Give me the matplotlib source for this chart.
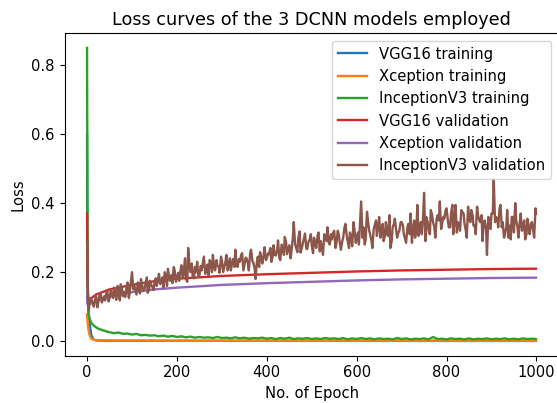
import numpy as np
import matplotlib
matplotlib.use('Agg')
import matplotlib.pyplot as plt

# training curves (epoch, loss)
vgg_train_ep = [0, 1, 2, 3, 5, 8, 10, 15, 20, 50, 100, 300, 600, 999]
vgg_train = [0.60, 0.15, 0.11, 0.09, 0.06, 0.03, 0.015, 0.004, 0.002, 0.001, 0.001, 0.0008, 0.0006, 0.0005]

xcp_train_ep = [0, 1, 2, 3, 5, 8, 10, 15, 20, 50, 100, 300, 600, 999]
xcp_train = [0.077, 0.06, 0.045, 0.035, 0.02, 0.01, 0.007, 0.004, 0.003, 0.002, 0.0015, 0.001, 0.001, 0.001]

inc_train_ep = [0, 1, 2, 3, 4, 5, 7, 10, 15, 20, 25, 30, 35, 40, 45] + list(range(50, 1000, 10)) + [999]
inc_train = [0.85, 0.30, 0.12, 0.085, 0.075, 0.068, 0.06, 0.052, 0.045, 0.04, 0.036, 0.034, 0.031, 0.03, 0.027,
             0.026, 0.023, 0.025, 0.021, 0.022, 0.019, 0.021, 0.017, 0.018, 0.016,
             0.017, 0.014, 0.016, 0.013, 0.015, 0.012, 0.014, 0.011, 0.013, 0.010,
             0.012, 0.010, 0.011, 0.009, 0.012, 0.009, 0.010, 0.008, 0.011, 0.008,
             0.010, 0.007, 0.009, 0.008, 0.010, 0.007, 0.009, 0.006, 0.009, 0.007,
             0.010, 0.006, 0.008, 0.007, 0.009, 0.006, 0.008, 0.006, 0.009, 0.007,
             0.008, 0.006, 0.009, 0.005, 0.008, 0.006, 0.009, 0.006, 0.008, 0.005,
             0.008, 0.006, 0.007, 0.005, 0.009, 0.006, 0.008, 0.005, 0.007, 0.006,
             0.008, 0.005, 0.012, 0.006, 0.007, 0.005, 0.008, 0.006, 0.007, 0.005,
             0.008, 0.005, 0.007, 0.006, 0.008, 0.005, 0.007, 0.006, 0.008, 0.005,
             0.007, 0.005, 0.008, 0.006, 0.007,
             0.006]

# validation curves
vgg_val_ep = [0, 1, 2, 3, 5, 10, 20, 50, 100, 160, 200, 300, 400, 500, 600, 700, 800, 900, 999]
vgg_val = [0.37, 0.20, 0.14, 0.125, 0.12, 0.125, 0.135, 0.15, 0.163, 0.176, 0.181, 0.189, 0.194, 0.198,
           0.202, 0.205, 0.207, 0.209, 0.21]

xcp_val_ep = [0, 1, 2, 5, 10, 20, 50, 100, 150, 200, 300, 400, 500, 600, 700, 800, 900, 999]
xcp_val = [0.13, 0.11, 0.105, 0.107, 0.11, 0.115, 0.128, 0.142, 0.15, 0.155, 0.163, 0.168, 0.172, 0.176,
           0.179, 0.181, 0.183, 0.184]

# InceptionV3 validation: readings at epochs 0-4, 5, 10, ..., 995, 999
inc_val_ep = [0, 1, 2, 3, 4] + list(range(5, 1000, 5)) + [999]
inc_val = [0.29, 0.20, 0.13, 0.10, 0.09,
           0.105, 0.120, 0.100, 0.130, 0.115, 0.140, 0.120, 0.118, 0.145, 0.125,
           0.135, 0.155, 0.120, 0.145, 0.165, 0.130, 0.128, 0.170, 0.140, 0.200,
           0.160, 0.135, 0.150, 0.180, 0.145, 0.165, 0.140, 0.175, 0.158, 0.170,
           0.160, 0.195, 0.170, 0.155, 0.190, 0.210, 0.175, 0.168, 0.205, 0.185,
           0.175, 0.220, 0.195, 0.180, 0.270, 0.200, 0.188, 0.215, 0.230, 0.190,
           0.205, 0.245, 0.210, 0.192, 0.225, 0.250, 0.205, 0.220, 0.198, 0.235,
           0.212, 0.250, 0.220, 0.205, 0.238, 0.265, 0.215, 0.230, 0.255, 0.220,
           0.240, 0.205, 0.265, 0.228, 0.180, 0.245, 0.258, 0.225, 0.272, 0.240,
           0.252, 0.230, 0.278, 0.248, 0.292, 0.235, 0.268, 0.302, 0.252, 0.278,
           0.262, 0.345, 0.272, 0.297, 0.257, 0.282, 0.312, 0.267, 0.292, 0.277,
           0.300, 0.270, 0.315, 0.290, 0.250, 0.305, 0.330, 0.280, 0.295, 0.320,
           0.285, 0.310, 0.265, 0.300, 0.340, 0.290, 0.315, 0.275, 0.325, 0.300,
           0.280, 0.405, 0.330, 0.295, 0.350, 0.310, 0.270, 0.335, 0.305, 0.360,
           0.320, 0.290, 0.345, 0.305, 0.270, 0.330, 0.355, 0.300, 0.320, 0.345,
           0.310, 0.285, 0.340, 0.370, 0.320, 0.300, 0.395, 0.335, 0.310, 0.430,
           0.360, 0.320, 0.380, 0.345, 0.300, 0.365, 0.405, 0.340, 0.355, 0.385,
           0.330, 0.370, 0.310, 0.395, 0.345, 0.320, 0.375, 0.340, 0.300, 0.355,
           0.380, 0.335, 0.310, 0.365, 0.345, 0.290, 0.350, 0.250, 0.330, 0.370,
           0.470, 0.360, 0.330, 0.395, 0.345, 0.310, 0.380, 0.335, 0.360, 0.315,
           0.350, 0.300, 0.370, 0.330, 0.295, 0.355, 0.310, 0.345, 0.300, 0.370]

# extra readings in between (epochs 8, 13, ..., 998)
inc_val_mid_ep = list(range(8, 1000, 5))
inc_val_mid = [0.125, 0.108, 0.122, 0.098, 0.135, 0.112, 0.130, 0.140, 0.115, 0.148,
               0.125, 0.140, 0.160, 0.118, 0.150, 0.142, 0.158, 0.125, 0.175, 0.150,
               0.145, 0.170, 0.138, 0.160, 0.152, 0.185, 0.150, 0.162, 0.148, 0.182,
               0.178, 0.165, 0.185, 0.200, 0.160, 0.180, 0.192, 0.215, 0.172, 0.198,
               0.205, 0.185, 0.240, 0.172, 0.215, 0.225, 0.182, 0.200, 0.185, 0.218,
               0.228, 0.195, 0.222, 0.235, 0.200, 0.212, 0.235, 0.215, 0.245, 0.200,
               0.230, 0.205, 0.240, 0.228, 0.215, 0.218, 0.238, 0.250, 0.205, 0.242,
               0.225, 0.255, 0.232, 0.210, 0.230, 0.215, 0.240, 0.250, 0.235, 0.255,
               0.270, 0.245, 0.250, 0.262, 0.240, 0.280, 0.250, 0.285, 0.268, 0.240,
               0.300, 0.280, 0.258, 0.318, 0.270, 0.300, 0.268, 0.290, 0.310, 0.255,
               0.285, 0.305, 0.260, 0.270, 0.310, 0.290, 0.285, 0.310, 0.315, 0.270,
               0.320, 0.280, 0.290, 0.330, 0.305, 0.270, 0.300, 0.345, 0.285, 0.315,
               0.355, 0.300, 0.280, 0.375, 0.320, 0.290, 0.325, 0.350, 0.330, 0.300,
               0.340, 0.305, 0.310, 0.365, 0.290, 0.340, 0.320, 0.315, 0.345, 0.335,
               0.295, 0.330, 0.310, 0.285, 0.350, 0.320, 0.305, 0.345, 0.365, 0.290,
               0.345, 0.310, 0.365, 0.330, 0.355, 0.350, 0.325, 0.360, 0.380, 0.350,
               0.330, 0.395, 0.350, 0.315, 0.340, 0.380, 0.370, 0.320, 0.390, 0.345,
               0.365, 0.335, 0.390, 0.350, 0.365, 0.345, 0.325, 0.360, 0.325, 0.370,
               0.345, 0.355, 0.385, 0.330, 0.300, 0.330, 0.300, 0.295, 0.360, 0.400,
               0.330, 0.345, 0.320, 0.350, 0.310, 0.330, 0.340, 0.320, 0.385]

# merge both sets of readings in epoch order
pairs = sorted(zip(inc_val_ep + inc_val_mid_ep, inc_val + inc_val_mid))
inc_val_all_ep = [p[0] for p in pairs]
inc_val_all = [p[1] for p in pairs]

plt.rcParams['font.size'] = 10.6
plt.rcParams['lines.linewidth'] = 1.7

fig = plt.figure(figsize=(5.57, 4.03), dpi=100)
ax = fig.add_subplot(111)
fig.subplots_adjust(left=0.116, right=1.0025, top=0.9174, bottom=0.1176)

ax.plot(vgg_train_ep, vgg_train, label='VGG16 training')
ax.plot(xcp_train_ep, xcp_train, label='Xception training')
ax.plot(inc_train_ep, inc_train, label='InceptionV3 training')
ax.plot(vgg_val_ep, vgg_val, label='VGG16 validation')
ax.plot(xcp_val_ep, xcp_val, label='Xception validation')
ax.plot(inc_val_all_ep, inc_val_all, label='InceptionV3 validation')

ax.set_title('Loss curves of the 3 DCNN models employed', fontsize=12.7)
ax.set_xlabel('No. of Epoch')
ax.set_ylabel('Loss')
ax.set_xticks([0, 200, 400, 600, 800, 1000])
ax.set_yticks([0.0, 0.2, 0.4, 0.6, 0.8])
ax.legend(loc='upper right')

fig.savefig('out.png', dpi=100)
